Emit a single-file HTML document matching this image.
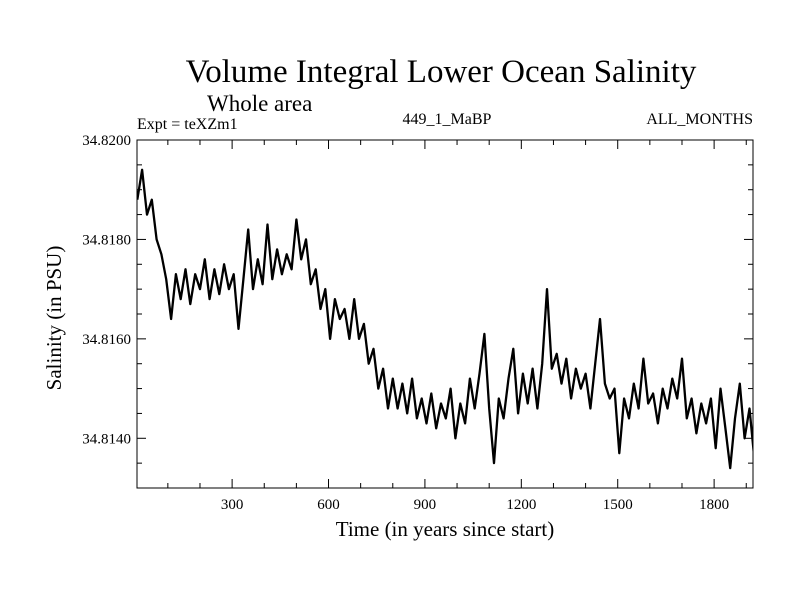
<!DOCTYPE html>
<html><head><meta charset="utf-8"><style>
body{margin:0;background:#fff;}
svg text{font-family:"Liberation Serif",serif;fill:#000;}
</style></head><body>
<svg id="chart" width="800" height="600" xmlns="http://www.w3.org/2000/svg">
<rect width="800" height="600" fill="#fff"/>
<text x="441" y="82" font-size="33" text-anchor="middle">Volume Integral Lower Ocean Salinity</text>
<text x="207" y="111" font-size="23">Whole area</text>
<text x="137" y="129" font-size="16">Expt = teXZm1</text>
<text x="447" y="124" font-size="16" text-anchor="middle">449_1_MaBP</text>
<text x="753" y="124" font-size="16" text-anchor="end">ALL_MONTHS</text>
<text x="445" y="536" font-size="21" text-anchor="middle">Time (in years since start)</text>
<text transform="translate(61,318) rotate(-90)" font-size="21" text-anchor="middle">Salinity (in PSU)</text>
<defs><clipPath id="pc"><rect x="137" y="140" width="616" height="348"/></clipPath></defs>
<g id="ticks"></g>
<path id="series" fill="none" stroke="#000" stroke-width="2.3" stroke-linejoin="round" clip-path="url(#pc)"/>
<rect x="137" y="140" width="616" height="348" fill="none" stroke="#000" stroke-width="1"/>
</svg>
<script>
const startYear = 5;
const stepYears = 15;
const salinity = [34.8188,34.8194,34.8185,34.8188,34.8180,34.8177,34.8172,34.8164,34.8173,34.8168,
34.8174,34.8167,34.8173,34.8170,34.8176,34.8168,34.8174,34.8169,34.8175,34.8170,
34.8173,34.8162,34.8172,34.8182,34.8170,34.8176,34.8171,34.8183,34.8172,34.8178,
34.8173,34.8177,34.8174,34.8184,34.8176,34.8180,34.8171,34.8174,34.8166,34.8170,
34.8160,34.8168,34.8164,34.8166,34.8160,34.8168,34.8160,34.8163,34.8155,34.8158,
34.8150,34.8154,34.8146,34.8152,34.8146,34.8151,34.8145,34.8152,34.8144,34.8148,
34.8143,34.8149,34.8142,34.8147,34.8144,34.8150,34.8140,34.8147,34.8143,34.8152,
34.8146,34.8153,34.8161,34.8146,34.8135,34.8148,34.8144,34.8152,34.8158,34.8145,
34.8153,34.8147,34.8154,34.8146,34.8155,34.8170,34.8154,34.8157,34.8151,34.8156,
34.8148,34.8154,34.8150,34.8153,34.8146,34.8155,34.8164,34.8151,34.8148,34.8150,
34.8137,34.8148,34.8144,34.8151,34.8146,34.8156,34.8147,34.8149,34.8143,34.8150,
34.8146,34.8152,34.8148,34.8156,34.8144,34.8148,34.8141,34.8147,34.8143,34.8148,
34.8138,34.8150,34.8142,34.8134,34.8144,34.8151,34.8140,34.8146,34.8136];
const xTickLabels = [300,600,900,1200,1500,1800];
const yTickLabels = ["34.8140","34.8160","34.8180","34.8200"];
const X0=137,X1=753,Y0=140,Y1=488, xmin=4, xmax=1921, ymin=34.8130, ymax=34.8200;
const xs=v=>X0+(v-xmin)/(xmax-xmin)*(X1-X0);
const ys=v=>Y1-(v-ymin)/(ymax-ymin)*(Y1-Y0);
const NS="http://www.w3.org/2000/svg";
let d="";
salinity.forEach((v,i)=>{d+=(i?"L":"M")+xs(startYear+i*stepYears).toFixed(1)+","+ys(v).toFixed(1);});
document.getElementById("series").setAttribute("d",d);
const g=document.getElementById("ticks");
function line(x1,y1,x2,y2,name){const l=document.createElementNS(NS,"line");
l.setAttribute("x1",x1);l.setAttribute("y1",y1);l.setAttribute("x2",x2);l.setAttribute("y2",y2);
l.setAttribute("stroke","#000");l.setAttribute("stroke-width","1");


g.appendChild(l);}
for(let yr=100;yr<=1900;yr+=100){const x=xs(yr),len=(yr%300===0)?9:5;
line(x,Y1,x,Y1-len,"x-tick");line(x,Y0,x,Y0+len,"x-tick-top");}
for(let k=0;k<=14;k++){const v=ymin+k*0.0005,y=ys(v);const major=(k%4===2);const len=major?9:5;
line(X0,y,X0+len,y,"y-tick");line(X1,y,X1-len,y,"y-tick-right");}
xTickLabels.forEach(t=>{const e=document.createElementNS(NS,"text");
e.setAttribute("x",xs(t));e.setAttribute("y",509);e.setAttribute("font-size","15");e.setAttribute("text-anchor","middle");
e.textContent=t;


g.appendChild(e);});
yTickLabels.forEach(t=>{const e=document.createElementNS(NS,"text");
e.setAttribute("x",131);e.setAttribute("y",ys(parseFloat(t))+5);e.setAttribute("font-size","15");e.setAttribute("text-anchor","end");
e.textContent=t;


g.appendChild(e);});
</script>
</body></html>
